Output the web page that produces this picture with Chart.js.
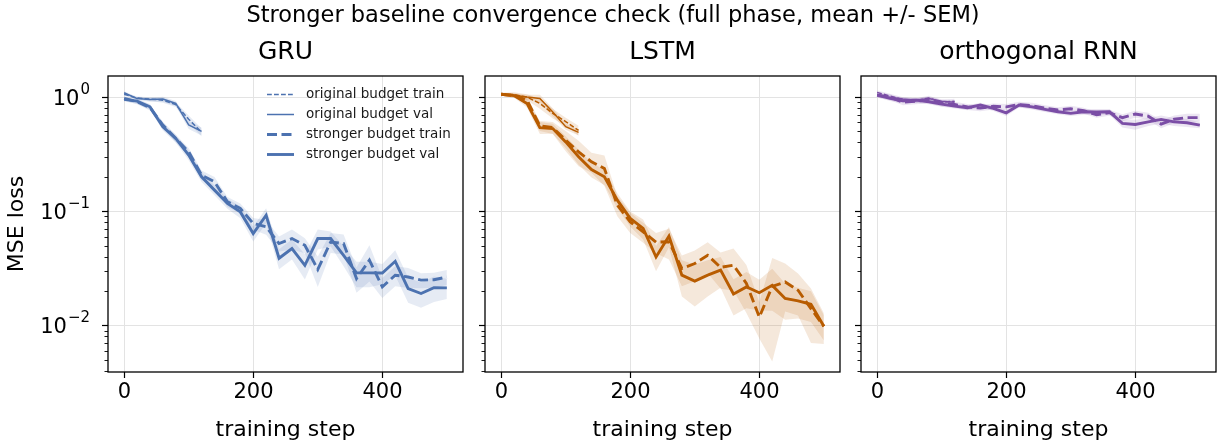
<!DOCTYPE html>
<html>
<head>
<meta charset="utf-8">
<script src="https://cdn.jsdelivr.net/npm/chart.js@4.4.1/dist/chart.umd.min.js"></script>
<style>
  body { margin: 0; background: #fff; }
  #wrap { position: relative; width: 1225px; height: 447px; }
  #wrap canvas { position: absolute; left: 0; top: 0; }
</style>
</head>
<body>
<div id="wrap">
  <canvas id="c0" width="1225" height="447"></canvas>
  <canvas id="c1" width="1225" height="447"></canvas>
  <canvas id="c2" width="1225" height="447"></canvas>
</div>
<script>
// training steps
const steps = [0, 20, 40, 60, 80, 100, 120, 140, 160, 180, 200, 220, 240, 260, 280, 300, 320, 340, 360, 380, 400, 420, 440, 460, 480, 500];
const stepsOriginal = [0, 20, 40, 60, 80, 100, 120];

const xTicks = [0, 200, 400];
const yMajorTicks = [0.01, 0.1, 1];
const yExponents = ['\u22122', '\u22121', '0'];

// GRU
const gruStrongTrain = [0.974, 0.91, 0.81, 0.568, 0.434, 0.331, 0.207, 0.181, 0.121, 0.106, 0.078, 0.073, 0.0521, 0.0576, 0.0503, 0.0309, 0.0537, 0.0521, 0.0257, 0.0372, 0.0217, 0.0275, 0.0265, 0.0249, 0.0251, 0.0265];
const gruStrongVal = [0.955, 0.922, 0.822, 0.549, 0.434, 0.310, 0.200, 0.153, 0.117, 0.0986, 0.0637, 0.0922, 0.0387, 0.0471, 0.0336, 0.0576, 0.0576, 0.0411, 0.0288, 0.0288, 0.0287, 0.0364, 0.0210, 0.0190, 0.0214, 0.0213];
const gruOrigTrain = [1.06, 0.98, 0.96, 0.94, 0.86, 0.64, 0.49];
const gruOrigVal = [1.09, 0.97, 0.95, 0.96, 0.88, 0.57, 0.50];
const gruStrongTrainSem = [0.04, 0.05, 0.06, 0.07, 0.08, 0.08, 0.10, 0.10, 0.10, 0.10, 0.12, 0.15, 0.15, 0.20, 0.15, 0.30, 0.20, 0.20, 0.25, 0.35, 0.20, 0.20, 0.20, 0.15, 0.15, 0.15];
const gruStrongValSem = [0.04, 0.05, 0.06, 0.07, 0.08, 0.10, 0.10, 0.10, 0.10, 0.12, 0.15, 0.15, 0.20, 0.20, 0.25, 0.20, 0.15, 0.20, 0.25, 0.25, 0.20, 0.25, 0.25, 0.25, 0.25, 0.20];
const gruOrigTrainSem = [0.03, 0.03, 0.04, 0.05, 0.05, 0.08, 0.08];
const gruOrigValSem = [0.03, 0.03, 0.04, 0.05, 0.05, 0.08, 0.08];

// LSTM
const lstmStrongTrain = [1.06, 1.03, 0.94, 0.56, 0.54, 0.42, 0.331, 0.271, 0.237, 0.113, 0.0806, 0.066, 0.0536, 0.054, 0.0315, 0.0348, 0.0411, 0.0322, 0.0336, 0.0233, 0.0118, 0.0219, 0.0240, 0.0203, 0.0140, 0.0098];
const lstmStrongVal = [1.06, 1.03, 0.88, 0.54, 0.53, 0.405, 0.300, 0.232, 0.200, 0.125, 0.0865, 0.0706, 0.0397, 0.0605, 0.0275, 0.0244, 0.0275, 0.0305, 0.0188, 0.0217, 0.0193, 0.0224, 0.0172, 0.0164, 0.0153, 0.0098];
const lstmOrigTrain = [1.06, 1.05, 1.00, 0.88, 0.72, 0.61, 0.51];
const lstmOrigVal = [1.06, 1.04, 1.00, 0.97, 0.74, 0.55, 0.49];
const lstmStrongTrainSem = [0.03, 0.04, 0.06, 0.10, 0.12, 0.20, 0.25, 0.20, 0.30, 0.20, 0.20, 0.20, 0.20, 0.30, 0.30, 0.30, 0.30, 0.35, 0.40, 0.45, 0.35, 0.78, 0.45, 0.40, 0.50, 0.30];
const lstmStrongValSem = [0.03, 0.04, 0.08, 0.12, 0.10, 0.12, 0.15, 0.15, 0.15, 0.15, 0.15, 0.20, 0.25, 0.20, 0.35, 0.40, 0.35, 0.30, 0.35, 0.35, 0.30, 0.40, 0.35, 0.30, 0.30, 0.25];
const lstmOrigTrainSem = [0.03, 0.05, 0.06, 0.10, 0.10, 0.08, 0.10];
const lstmOrigValSem = [0.03, 0.04, 0.05, 0.08, 0.08, 0.06, 0.06];

// orthogonal RNN
const orthStrongTrain = [1.04, 1.00, 0.90, 0.92, 0.94, 0.88, 0.86, 0.82, 0.80, 0.83, 0.82, 0.86, 0.84, 0.80, 0.77, 0.79, 0.76, 0.70, 0.73, 0.66, 0.71, 0.68, 0.58, 0.64, 0.66, 0.66];
const orthStrongVal = [1.04, 0.974, 0.928, 0.941, 0.91, 0.868, 0.834, 0.806, 0.851, 0.796, 0.728, 0.851, 0.82, 0.78, 0.743, 0.72, 0.743, 0.74, 0.743, 0.588, 0.576, 0.607, 0.637, 0.607, 0.595, 0.568];
const orthOrigTrain = [1.10, 1.02, 0.95, 0.93, 0.98, 0.90, 0.92];
const orthOrigVal = [1.05, 0.99, 0.96, 0.94, 0.97, 0.92, 0.90];
const orthStrongTrainSem = [0.05, 0.06, 0.06, 0.06, 0.06, 0.06, 0.06, 0.06, 0.06, 0.06, 0.06, 0.06, 0.06, 0.06, 0.06, 0.06, 0.06, 0.06, 0.06, 0.07, 0.07, 0.07, 0.08, 0.08, 0.08, 0.08];
const orthStrongValSem = [0.04, 0.05, 0.05, 0.05, 0.05, 0.05, 0.05, 0.05, 0.05, 0.05, 0.06, 0.05, 0.05, 0.05, 0.05, 0.05, 0.06, 0.06, 0.06, 0.08, 0.10, 0.08, 0.08, 0.08, 0.08, 0.06];
const orthOrigTrainSem = [0.04, 0.05, 0.05, 0.05, 0.05, 0.05, 0.05];
const orthOrigValSem = [0.04, 0.04, 0.04, 0.04, 0.04, 0.04, 0.04];

const FONT = '"DejaVu Sans", sans-serif';

const panels = [
  { id: 'c0', title: 'GRU', color: '#4c72b0', rgb: '76,114,176', left: 108, right: 463, legend: true,
    origTrain: gruOrigTrain, origVal: gruOrigVal, strongTrain: gruStrongTrain, strongVal: gruStrongVal,
    origTrainSem: gruOrigTrainSem, origValSem: gruOrigValSem, strongTrainSem: gruStrongTrainSem, strongValSem: gruStrongValSem },
  { id: 'c1', title: 'LSTM', color: '#b85c00', rgb: '184,92,0', left: 485, right: 840,
    origTrain: lstmOrigTrain, origVal: lstmOrigVal, strongTrain: lstmStrongTrain, strongVal: lstmStrongVal,
    origTrainSem: lstmOrigTrainSem, origValSem: lstmOrigValSem, strongTrainSem: lstmStrongTrainSem, strongValSem: lstmStrongValSem },
  { id: 'c2', title: 'orthogonal RNN', color: '#7b4ea6', rgb: '123,78,166', left: 861, right: 1216,
    origTrain: orthOrigTrain, origVal: orthOrigVal, strongTrain: orthStrongTrain, strongVal: orthStrongVal,
    origTrainSem: orthOrigTrainSem, origValSem: orthOrigValSem, strongTrainSem: orthStrongTrainSem, strongValSem: orthStrongValSem }
];
const TOP = 76, BOTTOM = 372;
const THIN = 1.5, THICK = 2.9;
const THIN_DASH = [4.8, 2.2], THICK_DASH = [10, 4.5];

const pts = (xs, ys) => xs.map((x, i) => ({ x: x, y: ys[i] }));

function bandSets(xs, ys, sem, rgb) {
  const upper = ys.map((v, i) => v * (1 + sem[i]));
  const lower = ys.map((v, i) => v * (1 - sem[i]));
  return [
    { data: pts(xs, upper), fill: '+1', backgroundColor: 'rgba(' + rgb + ',0.14)', borderWidth: 0, pointRadius: 0, order: 5 },
    { data: pts(xs, lower), fill: false, borderWidth: 0, pointRadius: 0, order: 5 }
  ];
}

function lineSet(xs, ys, color, width, dash) {
  return { data: pts(xs, ys), borderColor: color, borderWidth: width, borderDash: dash,
           pointRadius: 0, fill: false, tension: 0, order: 0 };
}

const legendItems = [
  { text: 'original budget train', width: THIN, dash: THIN_DASH },
  { text: 'original budget val', width: THIN, dash: [] },
  { text: 'stronger budget train', width: THICK, dash: THICK_DASH },
  { text: 'stronger budget val', width: THICK, dash: [] }
];

const decorations = {
  id: 'decorations',
  afterDraw(chart, args, opts) {
    const p = opts.panel;
    const ctx = chart.ctx;
    const a = chart.chartArea;
    const xs = chart.scales.x, ys = chart.scales.y;
    ctx.save();
    ctx.fillStyle = '#000';
    ctx.strokeStyle = '#000';

    // minor and major ticks on the left edge
    for (let e = -3; e <= 0; e++) {
      for (let m = 1; m <= 9; m++) {
        const v = m * Math.pow(10, e);
        if (v < ys.min || v > ys.max) continue;
        const y = Math.round(ys.getPixelForValue(v)) + 0.5;
        const len = m === 1 ? 6 : 3.5;
        ctx.lineWidth = m === 1 ? 1.2 : 0.9;
        ctx.beginPath();
        ctx.moveTo(a.left - len, y);
        ctx.lineTo(a.left, y);
        ctx.stroke();
      }
    }
    // bottom ticks and labels
    ctx.lineWidth = 1.2;
    ctx.font = '21px ' + FONT;
    ctx.textAlign = 'center';
    ctx.textBaseline = 'middle';
    xTicks.forEach(t => {
      const x = Math.round(xs.getPixelForValue(t)) + 0.5;
      ctx.beginPath();
      ctx.moveTo(x, a.bottom);
      ctx.lineTo(x, a.bottom + 6);
      ctx.stroke();
      ctx.fillText(String(t), x, 393);
    });
    ctx.font = '22px ' + FONT;
    ctx.fillText('training step', (a.left + a.right) / 2, 430);

    // panel title
    ctx.font = '25px ' + FONT;
    ctx.fillText(p.title, (a.left + a.right) / 2, 52);

    // frame
    ctx.lineWidth = 1.3;
    ctx.strokeRect(a.left, a.top, a.right - a.left, a.bottom - a.top);

    if (p.legend) {
      // y tick labels with superscript exponents
      yMajorTicks.forEach((v, i) => {
        const y = ys.getPixelForValue(v);
        ctx.font = '15px ' + FONT;
        ctx.textAlign = 'right';
        ctx.textBaseline = 'middle';
        const expW = ctx.measureText(yExponents[i]).width;
        ctx.fillText(yExponents[i], 90, y - 7);
        ctx.font = '21px ' + FONT;
        ctx.fillText('10', 90 - expW - 1, y + 2);
      });
      ctx.save();
      ctx.translate(17, 224);
      ctx.rotate(-Math.PI / 2);
      ctx.font = '22px ' + FONT;
      ctx.textAlign = 'center';
      ctx.fillText('MSE loss', 0, 0);
      ctx.restore();

      ctx.font = '22.5px ' + FONT;
      ctx.textAlign = 'center';
      ctx.textBaseline = 'middle';
      ctx.fillText('Stronger baseline convergence check (full phase, mean +/- SEM)', 613, 16);

      // legend
      ctx.font = '13.5px ' + FONT;
      ctx.textAlign = 'left';
      legendItems.forEach((it, i) => {
        const y = 94.5 + i * 20;
        ctx.strokeStyle = p.color;
        ctx.lineWidth = it.width;
        ctx.setLineDash(it.dash);
        ctx.beginPath();
        ctx.moveTo(267, y);
        ctx.lineTo(294, y);
        ctx.stroke();
        ctx.setLineDash([]);
        ctx.fillStyle = '#1a1a1a';
        ctx.fillText(it.text, 306, y);
      });
    }
    ctx.restore();
  }
};

panels.forEach(p => {
  const datasets = [].concat(
    bandSets(stepsOriginal, p.origTrain, p.origTrainSem, p.rgb),
    bandSets(stepsOriginal, p.origVal, p.origValSem, p.rgb),
    bandSets(steps, p.strongTrain, p.strongTrainSem, p.rgb),
    bandSets(steps, p.strongVal, p.strongValSem, p.rgb),
    [lineSet(stepsOriginal, p.origTrain, p.color, THIN, THIN_DASH),
     lineSet(stepsOriginal, p.origVal, p.color, THIN, []),
     lineSet(steps, p.strongTrain, p.color, THICK, THICK_DASH),
     lineSet(steps, p.strongVal, p.color, THICK, [])]
  );
  new Chart(document.getElementById(p.id), {
    type: 'line',
    data: { datasets: datasets },
    options: {
      responsive: false,
      animation: false,
      devicePixelRatio: 1,
      layout: { padding: { left: p.left, right: 1225 - p.right, top: TOP, bottom: 447 - BOTTOM } },
      plugins: { legend: { display: false }, tooltip: { enabled: false }, decorations: { panel: p } },
      scales: {
        x: {
          type: 'linear', min: -25, max: 525,
          ticks: { display: false },
          grid: { color: '#e3e3e3', lineWidth: 1, drawTicks: false },
          border: { display: false },
          afterBuildTicks: s => { s.ticks = xTicks.map(v => ({ value: v })); },
          afterFit: s => { s.height = 0; }
        },
        y: {
          type: 'logarithmic', min: 0.0039, max: 1.53,
          ticks: { display: false },
          grid: { color: '#e3e3e3', lineWidth: 1, drawTicks: false },
          border: { display: false },
          afterBuildTicks: s => { s.ticks = yMajorTicks.map(v => ({ value: v })); },
          afterFit: s => { s.width = 0; }
        }
      }
    },
    plugins: [decorations]
  });
});
</script>
</body>
</html>
